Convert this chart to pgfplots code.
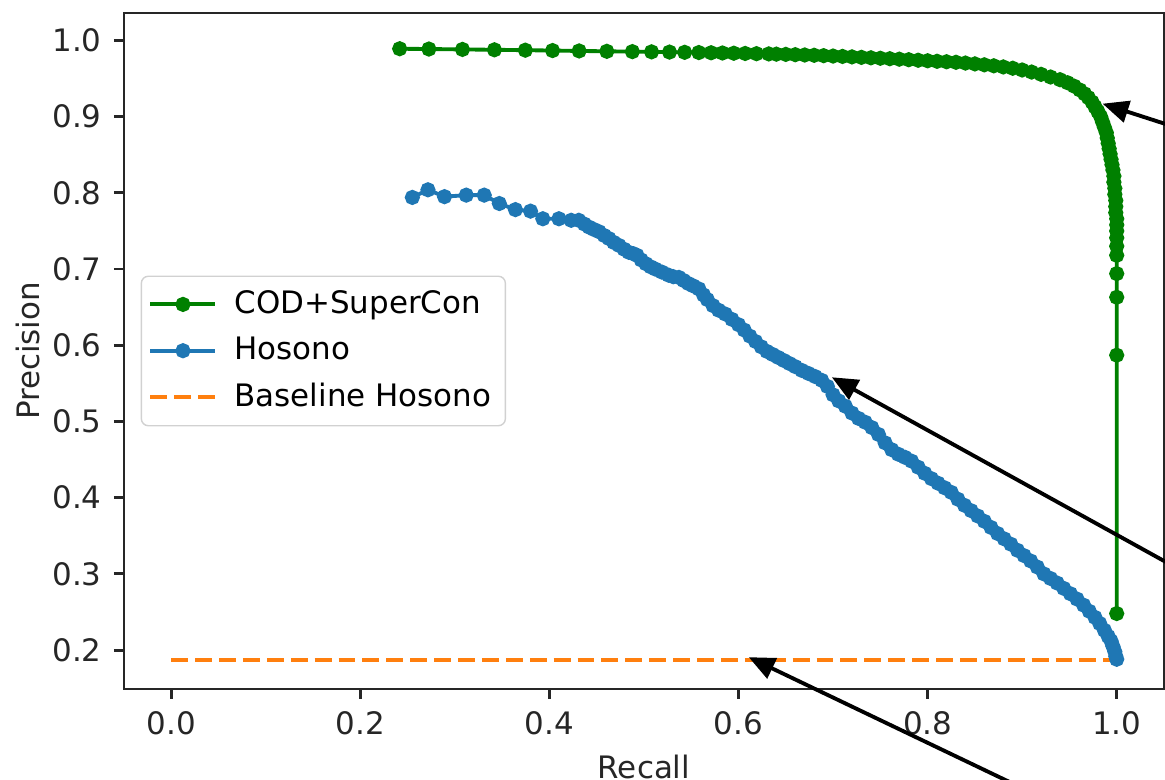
\documentclass[border=0pt]{standalone}
\usepackage{fontspec}
\setmainfont{DejaVu Sans}
\usepackage{pgfplots}
\pgfplotsset{compat=1.18}
\usetikzlibrary{arrows.meta,calc}

\definecolor{mplgreen}{HTML}{008000}
\definecolor{mplblue}{HTML}{1F77B4}
\definecolor{mplorange}{HTML}{FF7F0E}
\definecolor{ticktext}{HTML}{262626}

\begin{document}
\begin{tikzpicture}[font=\fontsize{8.8}{10}\selectfont]
\begin{axis}[
    name=ax,
    scale only axis,
    width=10.4cm, height=6.76cm,
    xmin=-0.05, xmax=1.05,
    ymin=0.149, ymax=1.036,
    xtick={0,0.2,0.4,0.6,0.8,1.0},
    ytick={0.2,0.3,0.4,0.5,0.6,0.7,0.8,0.9,1.0},
    tick align=outside,
    major tick length=0.1cm,
    xtick pos=bottom, ytick pos=left,
    axis line style={line width=0.8pt, black!85},
    tick style={line width=0.8pt, black!85},
    tick label style={text=ticktext},
    /pgf/number format/assume math mode=true,
    /pgf/number format/.cd, fixed, fixed zerofill, precision=1, /pgfplots/.cd,
    xlabel={Recall}, ylabel={Precision},
    xlabel style={at={(axis description cs:0.5,-0.1317)}, anchor=base, text=ticktext},
    ylabel style={at={(axis description cs:-0.0923,0.5)}, anchor=center, text=ticktext},
    clip=false,
    legend style={at={(0.016,0.5)}, anchor=west, draw=black!18, rounded corners=2pt,
        fill=white, inner xsep=2pt, inner ysep=2pt, row sep=1.2pt, column sep=0.1cm,
        cells={anchor=west}, text=black},
    legend image code/.code={\draw[mark repeat=2,mark phase=2,#1]
        plot coordinates {(0cm,0cm) (0.325cm,0cm) (0.65cm,0cm)};},
]
% COD+SuperCon
\addplot[mplgreen, line width=1.1pt, mark=*, mark size=1.6pt, mark options={solid}] table {
x y
0.2416 0.9891
0.2725 0.9887
0.3080 0.9882
0.3418 0.9877
0.3745 0.9872
0.4033 0.9867
0.4314 0.9862
0.4607 0.9857
0.4877 0.9853
0.508 0.9850
0.527 0.9847
0.543 0.9844
0.558 0.9841
0.571 0.9838
0.583 0.9835
0.595 0.9832
0.607 0.9829
0.619 0.9826
0.632 0.9823
0.640 0.9820
0.650 0.9817
0.660 0.9813
0.670 0.9809
0.680 0.9805
0.690 0.9800
0.700 0.9795
0.710 0.9790
0.720 0.9784
0.730 0.9778
0.740 0.9772
0.750 0.9766
0.760 0.9760
0.770 0.9754
0.780 0.9747
0.790 0.9740
0.800 0.9733
0.810 0.9726
0.820 0.9720
0.830 0.9713
0.840 0.9703
0.850 0.9692
0.860 0.9680
0.870 0.9667
0.880 0.9652
0.890 0.9635
0.900 0.9612
0.910 0.9585
0.920 0.9555
0.930 0.9520
0.940 0.9485
0.948 0.9445
0.955 0.9400
0.961 0.9350
0.966 0.9300
0.970 0.9250
0.974 0.9190
0.977 0.9130
0.980 0.9070
0.983 0.9000
0.985 0.8930
0.987 0.8860
0.989 0.8790
0.990 0.8720
0.991 0.8650
0.992 0.8580
0.993 0.8510
0.994 0.8440
0.995 0.8370
0.996 0.8300
0.997 0.8220
0.997 0.8140
0.998 0.8060
0.998 0.7980
0.999 0.7900
0.999 0.7820
0.999 0.7740
1.000 0.7660
1.000 0.7580
1.000 0.7500
1.000 0.7410
1.000 0.7300
1.000 0.7180
1.000 0.6940
1.000 0.6630
1.000 0.5870
1.000 0.2480
};
\addlegendentry{COD+SuperCon}
% Hosono
\addplot[mplblue, line width=1.1pt, mark=*, mark size=1.6pt, mark options={solid}] table {
x y
0.255 0.794
0.2715 0.804
0.289 0.795
0.312 0.797
0.331 0.797
0.347 0.786
0.364 0.778
0.380 0.776
0.393 0.766
0.410 0.766
0.423 0.764
0.431 0.764
0.437 0.759
0.442 0.755
0.447 0.752
0.4525 0.749
0.458 0.744
0.463 0.740
0.468 0.735
0.4736 0.731
0.479 0.726
0.484 0.722
0.489 0.720
0.4926 0.718
0.497 0.712
0.502 0.707
0.507 0.703
0.512 0.700
0.519 0.696
0.526 0.692
0.531 0.690
0.537 0.689
0.542 0.685
0.547 0.681
0.552 0.678
0.558 0.674
0.563 0.666
0.567 0.660
0.573 0.652
0.579 0.646
0.586 0.641
0.593 0.634
0.600 0.627
0.606 0.620
0.612 0.612
0.618 0.605
0.624 0.598
0.630 0.592
0.636 0.588
0.642 0.584
0.648 0.580
0.654 0.576
0.660 0.572
0.667 0.567
0.674 0.563
0.681 0.559
0.688 0.554
0.694 0.546
0.700 0.535
0.706 0.527
0.713 0.520
0.720 0.511
0.727 0.504
0.734 0.499
0.741 0.492
0.748 0.483
0.755 0.472
0.762 0.463
0.769 0.457
0.776 0.453
0.783 0.448
0.790 0.440
0.797 0.432
0.804 0.425
0.811 0.419
0.818 0.413
0.825 0.407
0.832 0.398
0.839 0.390
0.846 0.383
0.853 0.376
0.860 0.369
0.867 0.361
0.874 0.353
0.881 0.346
0.888 0.339
0.895 0.331
0.902 0.324
0.909 0.317
0.916 0.309
0.923 0.300
0.930 0.294
0.937 0.288
0.944 0.281
0.951 0.274
0.958 0.267
0.965 0.259
0.971 0.251
0.977 0.243
0.982 0.235
0.987 0.226
0.991 0.218
0.994 0.212
0.996 0.205
0.998 0.198
0.999 0.192
1.000 0.188
};
\addlegendentry{Hosono}
% Baseline Hosono
\addplot[mplorange, line width=1.2pt, dash pattern=on 4.8pt off 2pt] table {
x y
0.0 0.1875
1.0 0.1875
};
\addlegendentry{Baseline Hosono}

% annotation arrows coming from outside the figure
\draw[line width=1.1pt, -{Triangle[length=2.6mm,width=2.2mm]}] (axis cs:1.085,0.877) -- (axis cs:0.985,0.917);
\draw[line width=1.1pt, -{Triangle[length=2.6mm,width=2.2mm]}] (axis cs:1.085,0.293) -- (axis cs:0.6987,0.558);
\draw[line width=1.1pt, -{Triangle[length=2.6mm,width=2.2mm]}] (axis cs:0.927,0.003) -- (axis cs:0.6108,0.1907);
\end{axis}
\pgfresetboundingbox
\useasboundingbox ($(ax.south west)+(-1.24cm,-0.91cm)$) rectangle ($(ax.south west)+(10.41cm,6.89cm)$);
\end{tikzpicture}
\end{document}
